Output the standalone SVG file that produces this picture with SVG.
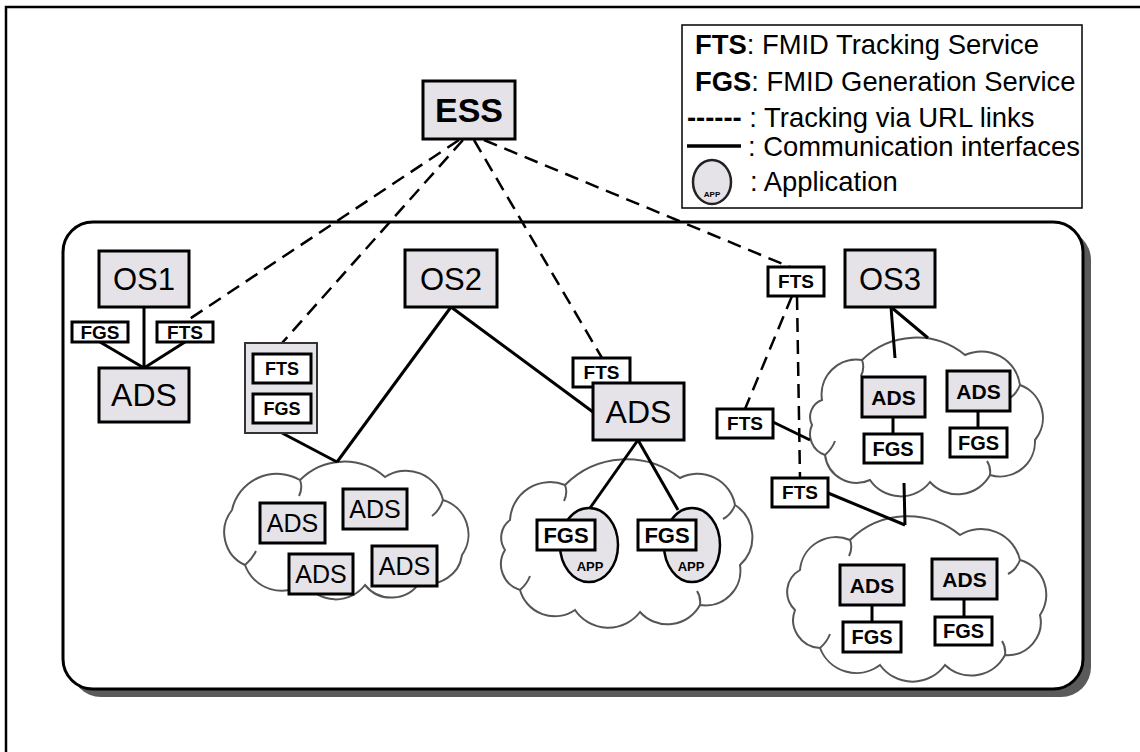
<svg xmlns="http://www.w3.org/2000/svg" width="1140" height="752" viewBox="0 0 1140 752">
<style>
.g{fill:#e5e3e8;stroke:#000;stroke-width:3}
.w{fill:#fff;stroke:#000;stroke-width:3}
.t{font-family:"Liberation Sans",Arial,sans-serif;text-anchor:middle;fill:#000}
.b{font-weight:bold}
.solid{stroke:#000;stroke-width:3;fill:none}
.dash{stroke:#000;stroke-width:2.5;stroke-dasharray:14 8;fill:none}
.cloud{fill:#fff;stroke:#555;stroke-width:2}
.curl{fill:none;stroke:#555;stroke-width:2}
.lg{font-family:"Liberation Sans",Arial,sans-serif;font-size:27.4px;fill:#000}
</style>
<rect width="1140" height="752" fill="#fff"/>
<path d="M6,752 V7 H1140" fill="none" stroke="#000" stroke-width="2.5"/>
<g id="domain">
<rect x="71" y="230" width="1020" height="467" rx="30" fill="#5a5a5a"/>
<rect x="63" y="222" width="1020" height="467" rx="30" fill="#fff" stroke="#000" stroke-width="3"/>
</g>
<g id="legend">
<rect x="682" y="25" width="400" height="183" fill="#fff" stroke="#000" stroke-width="1.5"/>
<text class="lg" x="695" y="54"><tspan font-weight="bold">FTS</tspan>: FMID Tracking Service</text>
<text class="lg" x="695" y="91"><tspan font-weight="bold">FGS</tspan>: FMID Generation Service</text>
<text class="lg" x="687" y="127"><tspan font-weight="bold">------</tspan> : Tracking via URL links</text>
<line x1="687" y1="146" x2="741" y2="146" stroke="#000" stroke-width="3.5"/>
<text class="lg" x="748" y="156">: Communication interfaces</text>
<ellipse cx="712" cy="182" rx="19" ry="22" fill="#e5e3e8" stroke="#222" stroke-width="2.5"/>
<text class="t b" x="712" y="197" font-size="8">APP</text>
<text class="lg" x="750" y="191">: Application</text>
</g>
<g id="clouds">
<path id="cloud1" class="cloud" d="M232,510 A46,46 0 0 1 300,480 A62,62 0 0 1 385,477 A38,38 0 0 1 443,500 A36,36 0 0 1 462,555 A33,33 0 0 1 420,582 A34,34 0 0 1 365,585 A37,37 0 0 1 305,583 A39,39 0 0 1 245,565 A36,36 0 0 1 232,510 Z"/>
<path class="curl" d="M300,480 Q303,488 299,496 M443,500 Q440,510 432,516 M245,565 Q252,559 256,551 M420,582 Q421,574 417,568"/>
<path id="cloud2" class="cloud" d="M510,520 A40,40 0 0 1 565,485 A86,86 0 0 1 680,478 A38,38 0 0 1 735,505 A38,38 0 0 1 740,565 A35,35 0 0 1 700,605 A37,37 0 0 1 640,612 A40,40 0 0 1 575,610 A36,36 0 0 1 520,590 A27,27 0 0 1 505,550 A22,22 0 0 1 510,520 Z"/>
<path class="curl" d="M565,485 Q568,493 564,501 M735,505 Q731,515 723,519 M520,590 Q527,584 530,576 M700,605 Q701,597 697,591"/>
<path id="cloud3" class="cloud" d="M822,400 A35,35 0 0 1 862,360 A77,77 0 0 1 965,355 A39,39 0 0 1 1020,385 A35,35 0 0 1 1035,440 A35,35 0 0 1 990,475 A37,37 0 0 1 930,482 A37,37 0 0 1 870,480 A32,32 0 0 1 825,455 A22,22 0 0 1 812,425 A18,18 0 0 1 822,400 Z"/>
<path class="curl" d="M862,360 Q865,368 861,376 M1020,385 Q1016,395 1008,399 M825,455 Q832,449 835,441 M990,475 Q991,467 987,461"/>
<path id="cloud4" class="cloud" d="M800,570 A36,36 0 0 1 850,540 A82,82 0 0 1 960,535 A40,40 0 0 1 1020,560 A36,36 0 0 1 1040,615 A33,33 0 0 1 1005,655 A38,38 0 0 1 945,665 A40,40 0 0 1 880,665 A39,39 0 0 1 820,648 A28,28 0 0 1 795,610 A25,25 0 0 1 800,570 Z"/>
<path class="curl" d="M850,540 Q853,548 849,556 M1020,560 Q1016,570 1008,574 M820,648 Q827,642 830,634 M1005,655 Q1006,647 1002,641"/>
</g>
<g id="connectors">
<line class="solid" x1="144" y1="307" x2="144" y2="368"/>
<line class="solid" x1="100" y1="342" x2="144" y2="368"/>
<line class="solid" x1="185" y1="342" x2="144" y2="368"/>
<line class="solid" x1="282" y1="433" x2="337" y2="462"/>
<line class="solid" x1="451" y1="307" x2="337" y2="462"/>
<line class="solid" x1="451" y1="307" x2="593" y2="412"/>
<line class="solid" x1="638" y1="440" x2="590" y2="508"/>
<line class="solid" x1="638" y1="440" x2="678" y2="510"/>
<line class="solid" x1="891" y1="307" x2="895" y2="358"/>
<line class="solid" x1="891" y1="307" x2="928" y2="338"/>
<line class="solid" x1="773" y1="422" x2="810" y2="440"/>
<line class="solid" x1="828" y1="493" x2="905" y2="525"/>
<line class="solid" x1="904" y1="483" x2="905" y2="525"/>
<line class="solid" x1="893" y1="417" x2="893" y2="434"/>
<line class="solid" x1="978" y1="411" x2="978" y2="428"/>
<line class="solid" x1="872" y1="605" x2="872" y2="622"/>
<line class="solid" x1="964" y1="599" x2="964" y2="617"/>
<line class="dash" x1="459" y1="140" x2="185" y2="322"/>
<line class="dash" x1="463" y1="140" x2="282" y2="343"/>
<line class="dash" x1="474" y1="140" x2="602" y2="358"/>
<line class="dash" x1="484" y1="140" x2="790" y2="267"/>
<line class="dash" x1="792" y1="296" x2="745" y2="409"/>
<line class="dash" x1="797" y1="296" x2="800" y2="478"/>
</g>
<g id="ESS"><rect class="g" x="423" y="81" width="92" height="58"/><text class="t b" x="469" y="122" font-size="34">ESS</text></g>
<g id="OS1"><rect class="g" x="99" y="251" width="90" height="56"/><text class="t" x="144" y="290" font-size="31">OS1</text></g>
<g id="OS1-FGS"><rect class="w" x="72" y="322" width="56" height="20"/><text class="t b" x="100" y="339" font-size="19">FGS</text></g>
<g id="OS1-FTS"><rect class="w" x="157" y="322" width="56" height="20"/><text class="t b" x="185" y="339" font-size="19">FTS</text></g>
<g id="OS1-ADS"><rect class="g" x="99" y="368" width="90" height="54"/><text class="t" x="144" y="406" font-size="32">ADS</text></g>
<g id="stack">
<rect x="245" y="343" width="72" height="90" fill="#e5e3e8" stroke="#333" stroke-width="2"/>
<rect class="w" x="253" y="354" width="58" height="29"/><text class="t b" x="282" y="375" font-size="18">FTS</text>
<rect class="w" x="253" y="394" width="58" height="29"/><text class="t b" x="282" y="415" font-size="18">FGS</text>
</g>
<g id="OS2"><rect class="g" x="405" y="250" width="92" height="57"/><text class="t" x="451" y="290" font-size="31">OS2</text></g>
<g id="mid-FTS"><rect class="w" x="573" y="358" width="57" height="29"/><text class="t b" x="601.5" y="379" font-size="19">FTS</text></g>
<g id="mid-ADS"><rect class="g" x="593" y="383" width="91" height="57"/><text class="t" x="638.5" y="423" font-size="32">ADS</text></g>
<g id="c1-ADS1"><rect class="g" x="260" y="503" width="65" height="40"/><text class="t" x="292.5" y="532" font-size="25">ADS</text></g>
<g id="c1-ADS2"><rect class="g" x="343" y="489" width="64" height="40"/><text class="t" x="375" y="518" font-size="25">ADS</text></g>
<g id="c1-ADS3"><rect class="g" x="289" y="554" width="64" height="40"/><text class="t" x="321" y="583" font-size="25">ADS</text></g>
<g id="c1-ADS4"><rect class="g" x="372" y="546" width="65" height="40"/><text class="t" x="404.5" y="575" font-size="25">ADS</text></g>
<g id="app1"><ellipse cx="589" cy="545" rx="29" ry="37" fill="#e5e3e8" stroke="#000" stroke-width="2.5"/><text class="t b" x="590" y="571" font-size="13">APP</text>
<rect class="w" x="537" y="520" width="58" height="30"/><text class="t b" x="566" y="543" font-size="22">FGS</text></g>
<g id="app2"><ellipse cx="692" cy="545" rx="28" ry="37" fill="#e5e3e8" stroke="#000" stroke-width="2.5"/><text class="t b" x="691" y="571" font-size="13">APP</text>
<rect class="w" x="638" y="520" width="58" height="30"/><text class="t b" x="667" y="543" font-size="22">FGS</text></g>
<g id="FTS-top"><rect class="w" x="768" y="267" width="56" height="29"/><text class="t b" x="796" y="288" font-size="19">FTS</text></g>
<g id="OS3"><rect class="g" x="845" y="250" width="90" height="57"/><text class="t" x="890" y="290" font-size="31">OS3</text></g>
<g id="FTS-left"><rect class="w" x="717" y="409" width="56" height="29"/><text class="t b" x="745" y="430" font-size="19">FTS</text></g>
<g id="FTS-low"><rect class="w" x="772" y="478" width="56" height="29"/><text class="t b" x="800" y="499" font-size="19">FTS</text></g>
<g id="c3-ADS-a"><rect class="g" x="862" y="377" width="63" height="40"/><text class="t b" x="893.5" y="404.5" font-size="21">ADS</text></g>
<g id="c3-FGS-a"><rect class="w" x="864" y="434" width="58" height="29"/><text class="t b" x="893" y="455.5" font-size="20">FGS</text></g>
<g id="c3-ADS-b"><rect class="g" x="947" y="371" width="63" height="40"/><text class="t b" x="978.5" y="398.5" font-size="21">ADS</text></g>
<g id="c3-FGS-b"><rect class="w" x="950" y="428" width="57" height="29"/><text class="t b" x="978.5" y="449.5" font-size="20">FGS</text></g>
<g id="c4-ADS-c"><rect class="g" x="840" y="565" width="64" height="40"/><text class="t b" x="872" y="592.5" font-size="21">ADS</text></g>
<g id="c4-FGS-c"><rect class="w" x="843" y="622" width="58" height="30"/><text class="t b" x="872" y="644" font-size="20">FGS</text></g>
<g id="c4-ADS-d"><rect class="g" x="932" y="559" width="65" height="40"/><text class="t b" x="964.5" y="586.5" font-size="21">ADS</text></g>
<g id="c4-FGS-d"><rect class="w" x="935" y="617" width="57" height="28"/><text class="t b" x="963.5" y="638" font-size="20">FGS</text></g>
</svg>
